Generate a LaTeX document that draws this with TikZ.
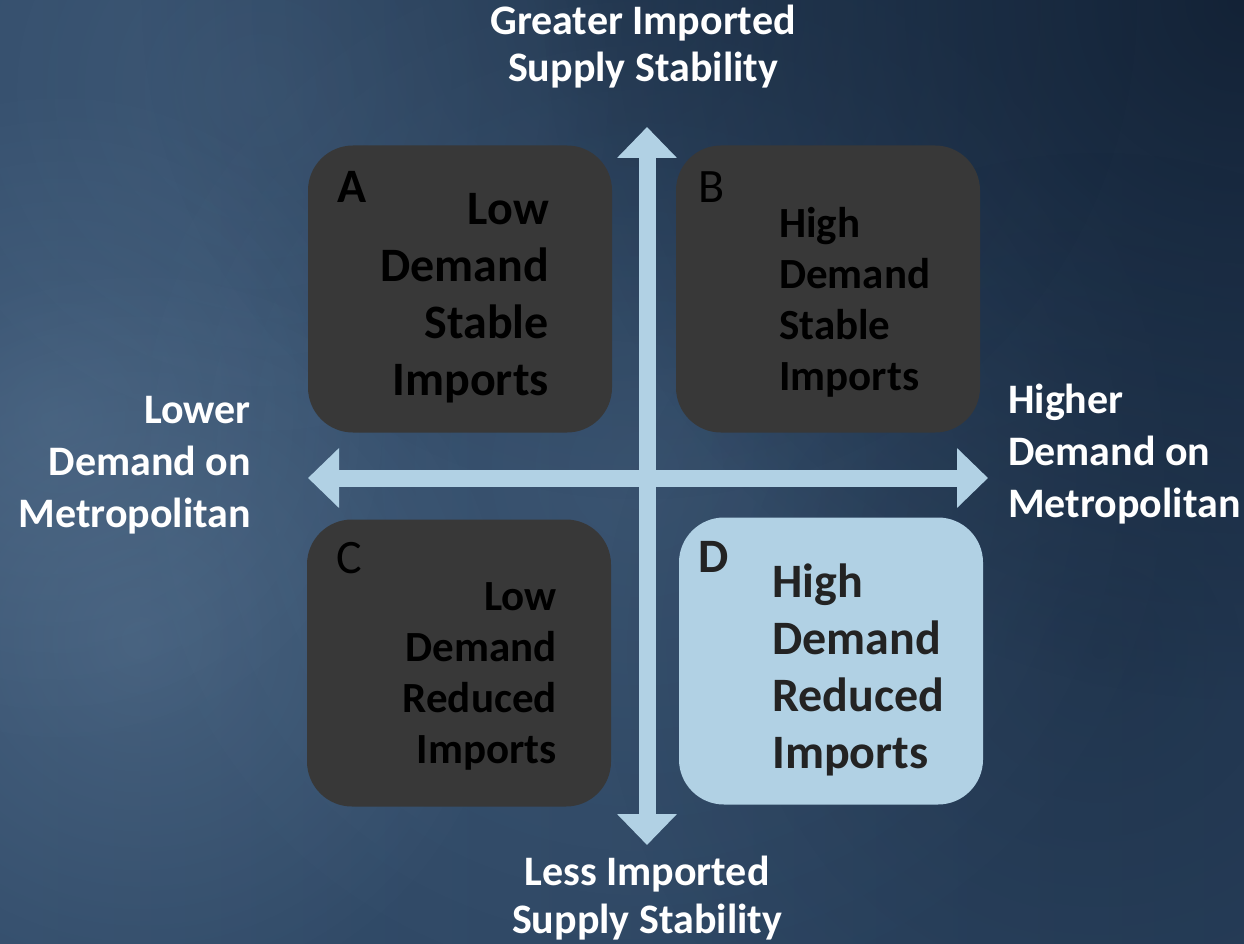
\documentclass[tikz,border=0pt]{standalone}
\usepackage{fontspec}
\setmainfont{Carlito}
\usetikzlibrary{arrows.meta,fadings}

\definecolor{sky}{HTML}{2E4866}
\definecolor{haze}{HTML}{6A86A3}
\definecolor{dusk}{HTML}{0E1B2D}
\definecolor{slate}{HTML}{383838}
\definecolor{ice}{HTML}{B1D1E4}
\definecolor{ink}{HTML}{232323}
\tikzfading[name=glow, inner color=transparent!0, outer color=transparent!100]

\begin{document}
\begin{tikzpicture}[x=1pt,y=-1pt,
   quad/.style={rectangle,rounded corners=45pt,fill=slate,minimum width=304pt,minimum height=287pt,inner sep=0pt},
   tag/.style={inner sep=0pt,font=\fontsize{48}{57}\selectfont},
   big/.style={inner sep=0pt,font=\bfseries\fontsize{48}{57}\selectfont},
   small/.style={inner sep=0pt,font=\bfseries\fontsize{43}{51}\selectfont},
   axis/.style={inner sep=0pt,text=white,font=\bfseries\fontsize{42}{#1}\selectfont},
   arm/.style={draw=ice,line width=17pt,{Triangle[length=31pt,width=58pt]}-{Triangle[length=31pt,width=58pt]}}]

   % cloudy backdrop
   \useasboundingbox (0,0) rectangle (1244,944);
   \shade[left color=sky!90!haze, right color=sky!80!dusk] (0,0) rectangle (1244,944);
   \fill[haze,opacity=.35,path fading=glow] (140,640) circle (380);
   \fill[haze,opacity=.3,path fading=glow] (60,420) circle (340);
   \fill[haze,opacity=.2,path fading=glow] (640,470) circle (560);
   \fill[haze,opacity=.2,path fading=glow] (260,90) circle (380);
   \fill[dusk,opacity=.8,path fading=glow] (1244,0) circle (700);
   \fill[dusk,opacity=.3,path fading=glow] (1100,650) circle (500);
   \fill[dusk,opacity=.3,path fading=glow] (640,0) circle (500);

   % quadrants
   \node[quad]          (A) at (460,289) {};
   \node[quad]          (B) at (828,289) {};
   \node[quad]          (C) at (459,663) {};
   \node[quad,fill=ice] (D) at (831,661) {};

   \node[big,anchor=base west]          (A-tag) at (337,203) {A};
   \node[tag,anchor=base west]          (B-tag) at (698,202) {B};
   \node[tag,anchor=base west]          (C-tag) at (336,573) {C};
   \node[big,anchor=base west,text=ink] (D-tag) at (698,572) {D};

   % base = last line
   \node[big,align=right,anchor=base east]         (A-text) at (549,395) {Low\\Demand\\Stable\\Imports};
   \node[small,align=left,anchor=base west]        (B-text) at (779,390) {High\\Demand\\Stable\\Imports};
   \node[small,align=right,anchor=base east]       (C-text) at (557,763) {Low\\Demand\\Reduced\\Imports};
   \node[big,align=left,anchor=base west,text=ink] (D-text) at (772,768) {High\\Demand\\Reduced\\Imports};

   % axes
   \coordinate (up)   at (647,127);
   \coordinate (down) at (647,845);
   \coordinate (west) at (308,478);
   \coordinate (east) at (988,478);
   \draw[arm] (down) -- (up);
   \draw[arm] (west) -- (east);

   \node[axis=47,align=center,anchor=base]     (greater) at (643,82)   {Greater Imported\\Supply Stability};
   \node[axis=48,align=center,anchor=base]     (less)    at (647,933)  {Less Imported\\Supply Stability};
   \node[axis=52,align=right,anchor=base east] (lower)   at (251,527)  {Lower\\Demand on\\Metropolitan};
   \node[axis=52,align=left,anchor=base west]  (higher)  at (1008,517) {Higher\\Demand on\\Metropolitan};
\end{tikzpicture}
\end{document}
